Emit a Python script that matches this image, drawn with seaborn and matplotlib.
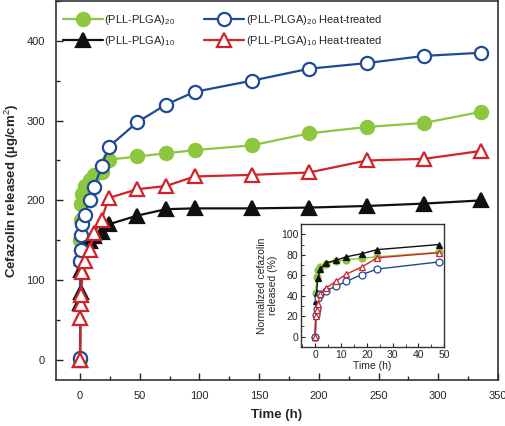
import numpy as np
import pandas as pd
import matplotlib
matplotlib.use("Agg")
import matplotlib.pyplot as plt
from matplotlib.ticker import MultipleLocator
import seaborn as sns

# data -------------------------------------------------------------------
time_h = [0, 0.25, 0.5, 1, 2, 4, 8, 12, 18, 24, 48, 72, 96, 144, 192, 240, 288, 336]

pll20 = [0, 150, 175, 195, 208, 218, 226, 232, 236, 251, 255, 259, 263, 269, 284, 292, 297, 311]
pll20_heat = [3, 124, 138, 157, 170, 182, 200, 217, 243, 267, 298, 320, 336, 350, 365, 372, 381, 385]
pll10 = [0, 72, 85, 113, 128, 142, 149, 156, 161, 170, 181, 189, 190, 190, 191, 193, 196, 200]
pll10_heat = [0, 53, 70, 82, 110, 124, 138, 159, 176, 203, 214, 218, 230, 232, 235, 250, 252, 262]

# inset: normalized release (%) up to 48 h
time_short = [0, 0.25, 0.5, 1, 2, 4, 8, 12, 18, 24, 48]
norm20 = [0, 43, 58, 65, 68, 71, 74, 75, 76.5, 78, 82.5]
norm20_heat = [0, 21, 27, 38, 42, 45, 49, 54, 60.5, 66, 73]
norm10 = [0, 35, 43, 57, 66, 72, 74.5, 78, 81, 85, 90]
norm10_heat = [0, 20, 26, 32, 42, 47, 54, 61, 68, 77, 82]

labels = [r"(PLL-PLGA)$_{20}$", r"(PLL-PLGA)$_{20}$ Heat-treated",
          r"(PLL-PLGA)$_{10}$", r"(PLL-PLGA)$_{10}$ Heat-treated"]

GREEN = "#8dc63f"
BLUE = "#1f4a96"
BLACK = "#111111"
RED = "#d2232a"

sns.set_style("ticks")
plt.rcParams["font.family"] = ["Liberation Sans", "DejaVu Sans"]
plt.rcParams["mathtext.fontset"] = "custom"
plt.rcParams["mathtext.rm"] = "Liberation Sans"
plt.rcParams["mathtext.it"] = "Liberation Sans:italic"

df = pd.DataFrame({"t": time_h, "a": pll20, "b": pll20_heat, "c": pll10, "d": pll10_heat})
dfi = pd.DataFrame({"t": time_short, "a": norm20, "b": norm20_heat, "c": norm10, "d": norm10_heat})

styles = {
    "a": dict(color=GREEN, marker="o", mfc=GREEN, mec=GREEN),
    "b": dict(color=BLUE, marker="o", mfc="white", mec=BLUE),
    "c": dict(color=BLACK, marker="^", mfc=BLACK, mec=BLACK),
    "d": dict(color=RED, marker="^", mfc="white", mec=RED),
}
names = dict(zip(["a", "b", "c", "d"], labels))

fig = plt.figure(figsize=(5.06, 4.26), dpi=100)
ax = fig.add_axes([0.111, 0.108, 0.873, 0.890])

for key in ["a", "c", "b", "d"]:
    sns.lineplot(data=df, x="t", y=key, ax=ax, estimator=None, sort=False,
                 label=names[key], lw=1.6, ms=9.5, mew=1.6, **styles[key])

ax.set_xlim(-20, 350)
ax.set_ylim(-25, 450)
ax.xaxis.set_major_locator(MultipleLocator(50))
ax.xaxis.set_minor_locator(MultipleLocator(25))
ax.yaxis.set_major_locator(MultipleLocator(100))
ax.yaxis.set_minor_locator(MultipleLocator(50))
ax.tick_params(which="both", direction="in", top=False, right=False, labelsize=8, pad=8)
ax.tick_params(which="major", length=5, width=1)
ax.tick_params(which="minor", length=3, width=1)
for s in ax.spines.values():
    s.set_linewidth(1.2)
    s.set_color("#333333")
ax.set_xlabel("Time (h)", fontsize=9.5, fontweight="bold", labelpad=6)
ax.set_ylabel("Cefazolin released (\u00b5g/cm$^2$)", fontsize=9.5, fontweight="bold", labelpad=4)
ax.legend(loc="upper left", ncol=2, frameon=False, fontsize=8, handlelength=3.6,
          handletextpad=0.15, columnspacing=2.6, bbox_to_anchor=(0.0, 0.985),
          borderaxespad=0.2, labelspacing=0.6)

# inset
axi = fig.add_axes([0.595, 0.186, 0.283, 0.288])
for key in ["a", "c", "b", "d"]:
    sns.lineplot(data=dfi, x="t", y=key, ax=axi, estimator=None, sort=False,
                 lw=1.0, ms=5, mew=0.9, legend=False, **styles[key])
axi.set_xlim(-5.5, 50)
axi.set_ylim(-10, 110)
axi.xaxis.set_major_locator(MultipleLocator(10))
axi.xaxis.set_minor_locator(MultipleLocator(5))
axi.yaxis.set_major_locator(MultipleLocator(20))
axi.yaxis.set_minor_locator(MultipleLocator(10))
axi.tick_params(which="both", direction="in", top=False, right=False, labelsize=7.5, pad=2)
axi.tick_params(which="major", length=3)
axi.tick_params(which="minor", length=2)
for s in axi.spines.values():
    s.set_linewidth(1.0)
    s.set_color("#333333")
axi.set_xlabel("Time (h)", fontsize=7.5, labelpad=1)
axi.set_ylabel("Normalized cefazolin\nreleased (%)", fontsize=7.5, labelpad=2)

fig.savefig("out.png", dpi=100)
